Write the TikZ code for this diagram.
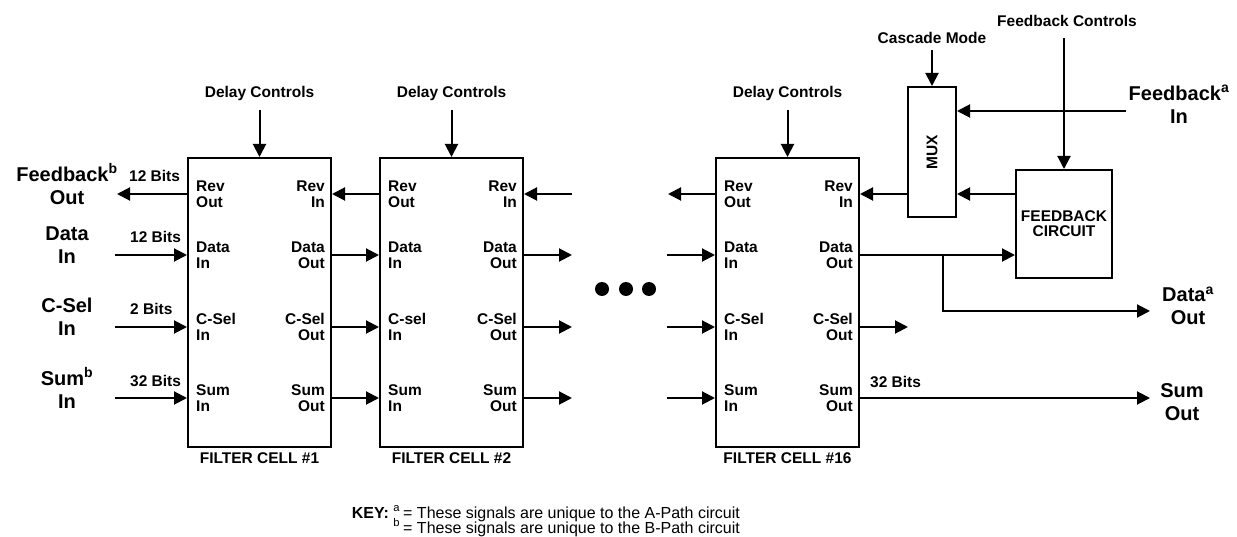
\documentclass[tikz,border=0pt]{standalone}
\usepackage{fontspec}
\setmainfont{Liberation Sans}
\usetikzlibrary{arrows.meta}
\usetikzlibrary{positioning}
\tikzset{sig/.style = {line width=2pt, -{Triangle[length=13pt, width=13pt]}},
         wire/.style = {line width=2pt},
         cell/.style = {draw, line width=2pt, minimum width=143pt, minimum height=289pt, inner sep=0pt},
         port/.style = {font=\bfseries\fontsize{15.5}{15.7}\selectfont, inner sep=0pt},
         smalltxt/.style = {font=\bfseries\fontsize{15.5}{16}\selectfont, inner sep=0pt},
         bigtxt/.style = {font=\bfseries\fontsize{20}{23}\selectfont, align=center, inner sep=0pt},
         keytxt/.style = {font=\fontsize{16}{15}\selectfont, inner sep=0pt}}

\begin{document}
\begin{tikzpicture}[x=1pt, y=-1pt]
    \useasboundingbox (0,0) rectangle (1237,537);
    % filter cells
    \node [cell] (c1) at (259.5, 302.5) {};
    \node [cell] (c2) at (451.5, 302.5) {};
    \node [cell] (c16) at (787.5, 302.5) {};
    \node [smalltxt, below=4pt of c1] (c1-name) {FILTER CELL \#1};
    \node [smalltxt, below=4pt of c2] (c2-name) {FILTER CELL \#2};
    \node [smalltxt, below=4pt of c16] (c16-name) {FILTER CELL \#16};
    \foreach \c/\cs in {c1/C-Sel, c2/C-sel, c16/C-Sel} {
      \node [smalltxt] (\c-dly) at (\c.north |- 0,93) {Delay Controls};
      \coordinate (\c-dlytail) at (\c.north |- 0,110);
      \draw [sig] (\c-dlytail) -- (\c.north);
      \foreach \y/\la/\lb/\ra/\rb/\p in {194/Rev/Out/Rev/In/rev, 255/Data/In/Data/Out/data,
                                        327/\cs/In/C-Sel/Out/csel, 398/Sum/In/Sum/Out/sum} {
        \coordinate (\c-\p-w) at (\c.west |- 0,\y);
        \coordinate (\c-\p-e) at (\c.east |- 0,\y);
        \node [port, align=left, anchor=west] (\c-\p-lt) at ([xshift=9pt]\c-\p-w) {\la\\\lb};
        \node [port, align=right, anchor=east] (\c-\p-rt) at ([xshift=-7pt]\c-\p-e) {\ra\\\rb};
      }
    }
    % left side
    \node [bigtxt] (fbout) at (67, 184) {Feedback\textsuperscript{b}\\Out};
    \node [bigtxt] (datain) at (67, 245) {Data\\In};
    \node [bigtxt] (cselin) at (67, 317) {C-Sel\\In};
    \node [bigtxt] (sumin) at (67, 388) {Sum\textsuperscript{b}\\In};
    \coordinate (fbout-tip) at (117, 194);
    \draw [sig] (c1-rev-w) -- (fbout-tip);
    \foreach \p in {data, csel, sum} {
      \coordinate (\p-tail) at (115, 0 |- c1-\p-w);
      \draw [sig] (\p-tail) -- (c1-\p-w);
    }
    \node [smalltxt, anchor=base west] (bits-rev) at (129, 182) {12 Bits};
    \node [smalltxt, anchor=base west] (bits-data) at (130, 243) {12 Bits};
    \node [smalltxt, anchor=base west] (bits-csel) at (130, 315) {2 Bits};
    \node [smalltxt, anchor=base west] (bits-sum) at (130, 386) {32 Bits};
    % cell 1 to cell 2
    \draw [sig] (c2-rev-w) -- (c1-rev-e);
    \foreach \p in {data, csel, sum} {
      \draw [sig] (c1-\p-e) -- (c2-\p-w);
    }
    % open ends round the gap
    \coordinate (gapl-rev) at (572, 194);
    \draw [sig] (gapl-rev) -- (c2-rev-e);
    \coordinate (gapr-rev) at (668, 194);
    \draw [sig] (c16-rev-w) -- (gapr-rev);
    \foreach \p/\y in {data/255, csel/327, sum/398} {
      \coordinate (gapl-\p) at (572, \y);
      \coordinate (gapr-\p) at (667, \y);
      \draw [sig] (c2-\p-e) -- (gapl-\p);
      \draw [sig] (gapr-\p) -- (c16-\p-w);
    }
    \foreach \x in {602, 626, 649} {
      \fill (\x, 289) circle (7pt);
    }
    % mux and feedback circuit
    \node [draw, line width=2pt, minimum width=48pt, minimum height=130pt] (mux) at (932, 152) {};
    \node [smalltxt, rotate=90] (mux-lbl) at (mux) {MUX};
    \node [draw, line width=2pt, minimum width=96pt, minimum height=108pt, inner sep=0pt,
           font=\bfseries\fontsize{15.5}{15}\selectfont, align=center] (fbc) at (1064, 224) {FEEDBACK\\CIRCUIT};
    \node [smalltxt] (casc) at (932, 38) {Cascade Mode};
    \coordinate (casc-tail) at (mux.north |- 0,50);
    \draw [sig] (casc-tail) -- (mux.north);
    \node [smalltxt] (fbctl) at (1067, 21) {Feedback Controls};
    \coordinate (fbctl-tail) at (fbc.north |- 0,38);
    \draw [sig] (fbctl-tail) -- (fbc.north);
    \node [bigtxt] (fbin) at (1179, 104) {Feedback\textsuperscript{a}\\In};
    \coordinate (fbin-tail) at (1126, 111);
    \draw [sig] (fbin-tail) -- (mux.east |- fbin-tail);
    \draw [sig] (fbc.west |- c16-rev-e) -- (mux.east |- c16-rev-e);
    \draw [sig] (mux.west |- c16-rev-e) -- (c16-rev-e);
    % outputs of cell 16
    \draw [sig] (c16-data-e) -- (fbc.west |- c16-data-e);
    \coordinate (dbr) at (943, 255);
    \coordinate (dout-tip) at (1150, 311);
    \draw [sig] (dbr) |- (dout-tip);
    \node [bigtxt] (dout) at (1188, 306) {Data\textsuperscript{a}\\Out};
    \coordinate (csel-tip) at (908, 327);
    \draw [sig] (c16-csel-e) -- (csel-tip);
    \coordinate (sout-tip) at (1150, 398);
    \draw [sig] (c16-sum-e) -- (sout-tip);
    \node [bigtxt] (sout) at (1182, 402) {Sum\\Out};
    \node [smalltxt, anchor=base west] (bits-out) at (870, 387) {32 Bits};
    % key
    \node [keytxt, anchor=base west] (key-a) at (403, 518) {= These signals are unique to the A-Path circuit};
    \node [keytxt, anchor=base east] (key-am) at (key-a.base west) {\textbf{KEY:} \textsuperscript{a}\,};
    \node [keytxt, anchor=base west] (key-b) at (403, 533) {= These signals are unique to the B-Path circuit};
    \node [keytxt, anchor=base east] (key-bm) at (key-b.base west) {\textsuperscript{b}\,};
\end{tikzpicture}
\end{document}
